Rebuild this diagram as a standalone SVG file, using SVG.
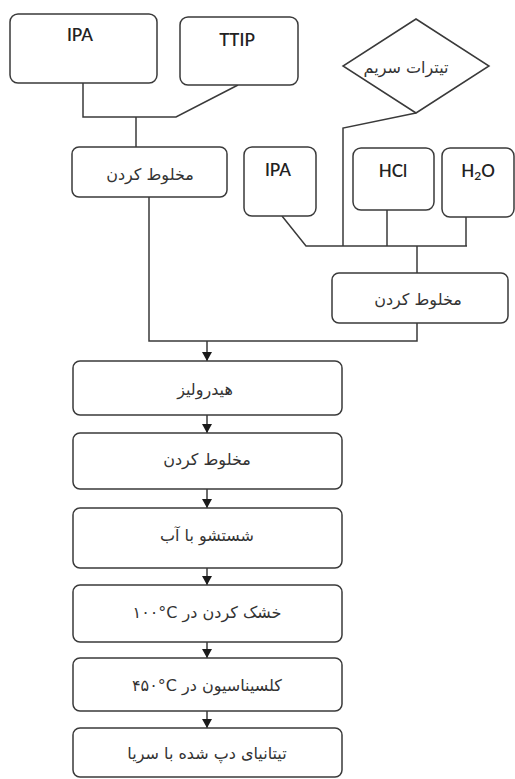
<svg xmlns="http://www.w3.org/2000/svg" width="515" height="779" viewBox="0 0 515 779">
<style>
.box{fill:#fff;stroke:#3a3a3a;stroke-width:1.5}
.ln{fill:none;stroke:#3a3a3a;stroke-width:1.5}
.en{font-family:Lato,"Liberation Sans",sans-serif;font-size:17px;font-weight:600;fill:#222;text-anchor:middle}
.fa{font-family:"DejaVu Sans",sans-serif;font-size:16px;fill:#333;text-anchor:middle}
</style>
<defs>
<marker id="ah" markerWidth="10" markerHeight="10" refX="9" refY="5" orient="auto" markerUnits="userSpaceOnUse">
<path d="M0,0 L9,5 L0,10 Z" fill="#1a1a1a"/>
</marker>
</defs>
<rect width="515" height="779" fill="#fff"/>
<g id="connectors">
<polyline class="ln" points="83,83 83,117 176,117 238,85"/>
<line class="ln" x1="136" y1="117" x2="136" y2="147"/>
<polyline class="ln" points="416,113 343,128 343,246"/>
<polyline class="ln" points="282,216 306,246 467,246"/>
<line class="ln" x1="387" y1="210" x2="387" y2="246"/>
<line class="ln" x1="466" y1="217" x2="466" y2="246"/>
<line class="ln" x1="417" y1="246" x2="417" y2="273"/>
<polyline class="ln" points="149,197 149,341 417,341 417,323"/>
<line class="ln" x1="207" y1="341" x2="207" y2="361" marker-end="url(#ah)"/>
<line class="ln" x1="207" y1="415" x2="207" y2="433" marker-end="url(#ah)"/>
<line class="ln" x1="207" y1="489" x2="207" y2="508" marker-end="url(#ah)"/>
<line class="ln" x1="207" y1="568" x2="207" y2="585" marker-end="url(#ah)"/>
<line class="ln" x1="207" y1="642" x2="207" y2="658" marker-end="url(#ah)"/>
<line class="ln" x1="207" y1="711" x2="207" y2="728" marker-end="url(#ah)"/>
</g>
<g id="ipa1"><rect class="box" x="10" y="14" width="147" height="69" rx="8"/><text class="en" x="80" y="41">IPA</text></g>
<g id="ttip"><rect class="box" x="180" y="17" width="118" height="68" rx="8"/><text class="en" x="237" y="46">TTIP</text></g>
<g id="ceriumNitrate"><polygon class="box" points="416,19 489,66 416,113 343,66"/><text class="fa" x="406" y="73" font-size="15" direction="rtl">تیترات سریم</text></g>
<g id="mix1"><rect class="box" x="72" y="147" width="155" height="50" rx="7"/><text class="fa" x="150" y="180" direction="rtl">مخلوط کردن</text></g>
<g id="ipa2"><rect class="box" x="244" y="147" width="72" height="69" rx="8"/><text class="en" x="278" y="176">IPA</text></g>
<g id="hcl"><rect class="box" x="353" y="148" width="81" height="62" rx="8"/><text class="en" x="393" y="177">HCl</text></g>
<g id="h2o"><rect class="box" x="442" y="148" width="72" height="69" rx="8"/><text class="en" x="478" y="177">H<tspan font-size="12" dy="3">2</tspan><tspan dy="-3">O</tspan></text></g>
<g id="mix2"><rect class="box" x="332" y="273" width="176" height="50" rx="7"/><text class="fa" x="418" y="305" direction="rtl">مخلوط کردن</text></g>
<g id="hydrolysis"><rect class="box" x="73" y="361" width="269" height="54" rx="7"/><text class="fa" x="205" y="395" direction="rtl">هیدرولیز</text></g>
<g id="mix3"><rect class="box" x="73" y="433" width="269" height="56" rx="7"/><text class="fa" x="207" y="465" direction="rtl">مخلوط کردن</text></g>
<g id="wash"><rect class="box" x="73" y="508" width="269" height="60" rx="7"/><text class="fa" x="207" y="541" direction="rtl">شستشو با آب</text></g>
<g id="dry"><rect class="box" x="73" y="585" width="269" height="57" rx="7"/><text class="fa" x="207" y="618" direction="rtl">خشک کردن در &#x2066;۱۰۰°C&#x2069;</text></g>
<g id="calcine"><rect class="box" x="73" y="658" width="269" height="53" rx="7"/><text class="fa" x="207" y="691" direction="rtl">کلسیناسیون در &#x2066;۴۵۰°C&#x2069;</text></g>
<g id="product"><rect class="box" x="73" y="728" width="269" height="49" rx="7"/><text class="fa" x="207" y="759" direction="rtl">تیتانیای دپ شده با سریا</text></g>
</svg>
